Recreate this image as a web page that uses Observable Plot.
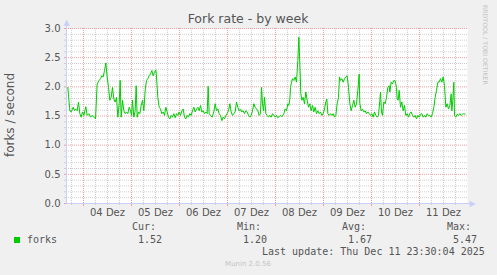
<!DOCTYPE html>
<html><head><meta charset="utf-8">
<script src="https://cdn.jsdelivr.net/npm/d3@7"></script>
<script src="https://cdn.jsdelivr.net/npm/@observablehq/plot@0.6"></script>
<style>
html,body{margin:0;padding:0;background:#f0f0f0;}
#page{position:relative;width:497px;height:275px;overflow:hidden;background:#f0f0f0;font-family:"DejaVu Sans",sans-serif;color:#555;}
.t{position:absolute;white-space:nowrap;line-height:1;}
.mono{font-family:"DejaVu Sans Mono",monospace;font-size:10px;color:#555;}
</style></head>
<body><div id="page"></div>
<script>
const title = "Fork rate - by week";
const yLabel = "forks / second";
const seriesName = "forks";
// [hours since 2025-12-03 00:00, forks per second]
const samples = [
[16.17,1.99],[17.17,1.59],[17.83,1.57],[18.83,1.65],[19.5,1.59],[20,1.62],[20.83,1.59],[21.5,1.74],[22.17,1.54],[22.83,1.48],
[23.5,1.57],[24.17,1.51],[25.17,1.66],[25.83,1.51],[26.67,1.54],[27.5,1.48],[28.33,1.51],[29.17,1.48],[30,1.45],[30.83,2.05],
[31.33,2.08],[31.83,2.11],[32.5,2.14],[33.17,2.19],[33.83,2.17],[34.5,2.28],[35.17,2.41],[35.83,2.17],[36.5,1.99],[37.17,1.77],
[37.83,1.82],[38.5,1.99],[39.17,1.79],[39.83,1.74],[40.5,1.82],[41.17,1.48],[41.83,1.71],[42.33,2.11],[42.83,1.48],[43.5,1.77],
[44.17,1.59],[44.83,1.54],[45.5,1.57],[46.17,1.54],[46.83,1.65],[47.5,1.59],[48,1.51],[48.5,1.77],[49.17,1.48],[49.83,1.59],
[50.33,2.02],[50.83,1.48],[51.5,1.57],[52.17,1.54],[52.83,1.68],[53.5,1.77],[54.17,1.59],[54.83,1.94],[55.5,2.11],[56.17,2.14],
[56.83,2.19],[57.5,2.22],[58.17,2.28],[58.83,2.19],[59.5,2.25],[60.17,2.29],[60.5,2.17],[61.17,1.82],[61.83,1.65],[62.5,1.62],
[63.17,1.54],[63.83,1.57],[64.5,1.51],[65.17,1.65],[65.83,1.57],[66.5,1.48],[67.17,1.45],[67.83,1.51],[68.5,1.48],[69.17,1.54],
[69.83,1.47],[70.5,1.54],[71.17,1.51],[71.83,1.57],[72.5,1.51],[73.17,1.59],[73.83,1.62],[74.5,1.48],[75.17,1.45],[75.83,1.51],
[76.5,1.48],[77.17,1.54],[77.83,1.51],[78.5,1.59],[79.17,1.65],[79.83,1.57],[80.5,1.62],[81.17,1.65],[81.83,1.59],[82.5,1.68],
[83.17,1.57],[83.83,1.59],[84.5,1.54],[85.17,1.57],[85.83,1.54],[86.33,2.01],[86.83,1.54],[87.5,1.51],[88.33,1.48],[89.17,1.57],
[89.83,1.71],[90.5,1.59],[91.17,1.62],[91.83,1.54],[92.5,1.51],[93.17,1.42],[93.83,1.48],[94.5,1.45],[95.17,1.51],[95.83,1.54],
[96.5,1.59],[97.17,1.71],[97.83,1.57],[98.5,1.51],[99.17,1.54],[99.83,1.57],[100.5,1.74],[101.17,1.65],[101.83,1.59],[102.5,1.62],
[103.17,1.57],[103.83,1.59],[104.5,1.54],[105.17,1.59],[105.83,1.57],[106.5,1.51],[107.17,1.48],[107.83,1.51],[108.5,1.59],[109.17,1.71],
[109.83,1.65],[110.5,1.62],[111.17,1.59],[111.83,1.51],[112.5,1.54],[113,1.99],[113.5,1.71],[114,1.59],[114.5,1.82],[115.17,1.54],
[115.83,1.51],[116.5,1.48],[117.17,1.51],[117.83,1.48],[118.5,1.54],[119.17,1.51],[119.83,1.48],[120.5,1.51],[121.17,1.47],[121.83,1.49],
[122.5,1.51],[123.33,1.49],[124.17,1.54],[124.83,1.62],[125.5,1.59],[126.17,1.71],[126.67,1.68],[127.17,1.79],[127.5,1.99],[128,2.08],
[128.5,2.14],[129.17,2.11],[129.83,2.17],[130.5,2.08],[131.17,2.45],[131.67,2.85],[132.17,2.39],[132.67,1.88],[133.17,1.77],[133.83,1.82],
[134.5,1.71],[135.17,1.91],[135.83,1.77],[136.5,1.65],[137.17,1.71],[137.83,1.59],[138.5,1.68],[139.17,1.57],[139.83,1.65],[140.5,1.54],
[141.17,1.59],[141.83,1.54],[142.5,1.57],[143.17,1.51],[143.83,1.54],[144.5,1.62],[145.17,1.74],[145.67,1.79],[146.17,1.54],[146.83,1.51],
[147.5,1.54],[148.17,1.51],[148.83,1.54],[149.5,1.48],[150.17,1.51],[150.83,1.71],[151.5,1.82],[152,2.17],[152.5,2.11],[153.17,2.14],
[153.83,2.08],[154.5,2.14],[155.17,2.17],[155.83,2.19],[156.5,1.99],[157.17,1.71],[157.83,1.59],[158.5,1.68],[159.17,1.77],[159.83,1.65],
[160.5,1.71],[161.17,1.94],[161.83,2.22],[162.17,1.71],[162.83,1.59],[163.5,1.62],[164.17,1.57],[164.83,1.59],[165.5,1.54],[166.17,1.57],
[166.83,1.54],[167.5,1.51],[168.17,1.54],[168.83,1.48],[169.5,1.57],[170.17,1.51],[170.83,1.48],[171.5,1.51],[172.17,1.77],[172.5,1.91],
[173,1.57],[173.5,1.51],[174.17,1.74],[174.83,1.71],[175.5,1.82],[176.17,1.99],[176.83,2.02],[177.17,1.91],[177.83,2.08],[178.5,2.05],
[179.17,2.11],[179.83,2.10],[180.5,1.99],[180.83,1.79],[181.33,1.77],[181.83,1.94],[182.5,1.65],[183.17,1.74],[183.83,1.59],[184.5,1.68],
[185.17,1.51],[185.83,1.54],[186.5,1.48],[187.17,1.54],[187.83,1.57],[188.5,1.51],[189.17,1.48],[189.83,1.51],[190.5,1.45],[191.17,1.51],
[191.83,1.48],[192.5,1.53],[193.17,1.54],[193.83,1.48],[194.5,1.51],[195.17,1.48],[195.83,1.54],[196.5,1.51],[197.17,1.51],[197.83,1.48],
[198.5,1.54],[199.17,1.65],[199.83,1.82],[200.5,1.94],[201.17,2.08],[201.83,2.08],[202.5,2.14],[203.17,2.08],[203.83,2.17],[204.5,2.02],
[205.17,1.65],[205.83,1.71],[206.5,1.62],[207.17,1.68],[207.83,1.88],[208.17,1.59],[208.67,1.77],[209.17,2.08],[209.5,1.51],[210.17,1.48],
[210.83,1.53],[211.5,1.51],[212.17,1.54],[212.83,1.51],[213.5,1.53],[214.17,1.54],[214.83,1.53]
];
const dayLabels = ["04 Dez","05 Dez","06 Dez","07 Dez","08 Dez","09 Dez","10 Dez","11 Dez"];
const yTicks = [0, 0.5, 1.0, 1.5, 2.0, 2.5, 3.0];
const legendHeads = ["Cur:", "Min:", "Avg:", "Max:"];
const legendValues = ["1.52", "1.20", "1.67", "5.47"];
const lastUpdate = "Last update: Thu Dec 11 23:30:04 2025";
const footer = "Munin 2.0.56";
const watermark = "RRDTOOL / TOBI OETIKER";

const data = samples.map(([t, v]) => ({t, v}));
const xDomain = [15.5, 216];
const midnights = dayLabels.map((d, i) => 24 * (i + 1));
const noons = dayLabels.map((d, i) => 24 * (i + 1) + 12);
const sixHours = d3.range(18, 216, 6).filter(h => h % 24 !== 0);
const yMinor = d3.range(1, 30).map(i => i / 10).filter(v => Math.abs(v * 2 - Math.round(v * 2)) > 1e-6);
const axisCol = "#c8d0fa";
const majorCol = "#e8a0a0";
const minorCol = "#cfcfcf";

const chart = Plot.plot({
  width: 497, height: 222,
  marginLeft: 66, marginRight: 30, marginTop: 28, marginBottom: 19,
  style: {background: "transparent", fontFamily: "DejaVu Sans", fontSize: "10px", color: "#555", overflow: "visible"},
  x: {domain: xDomain, axis: null},
  y: {domain: [0, 3], axis: null},
  marks: [
    Plot.frame({fill: "white", stroke: null}),
    Plot.ruleY(yMinor, {stroke: minorCol, strokeDasharray: "1,1"}),
    Plot.ruleX(sixHours, {stroke: minorCol, strokeDasharray: "1,1"}),
    Plot.ruleY(yTicks.filter(v => v > 0), {stroke: majorCol, strokeDasharray: "1,1"}),
    Plot.ruleX(midnights, {stroke: majorCol, strokeDasharray: "1,1"}),
    Plot.axisY({ticks: yMinor, tickSize: 2, tickFormat: () => "", stroke: minorCol, label: null}),
    Plot.axisY({ticks: yTicks, tickSize: 2, tickPadding: 4, tickFormat: d3.format(".1f"), stroke: majorCol, fill: "#555", fontSize: 10, label: null}),
    Plot.axisX({ticks: sixHours, tickSize: 2, tickFormat: () => "", stroke: minorCol, label: null}),
    Plot.axisX({ticks: midnights, tickSize: 3, tickFormat: () => "", stroke: majorCol, label: null}),
    Plot.axisX({ticks: noons, tickSize: 0, tickPadding: 5, tickFormat: (d, i) => dayLabels[i], fill: "#555", fontSize: 10, label: null}),
    Plot.ruleX([xDomain[0]], {y1: 0, y2: 3.09, stroke: axisCol}),
    Plot.ruleY([0], {x1: xDomain[0], x2: 218.5, stroke: axisCol}),
    Plot.text(["▲"], {x: xDomain[0], y: 3.1, fill: axisCol, fontSize: 8}),
    Plot.text(["▶"], {x: 218.6, y: 0, fill: axisCol, fontSize: 8}),
    Plot.line(data, {x: "t", y: "v", stroke: "#00cc00", strokeWidth: 1})
  ]
});
const page = document.getElementById("page");
chart.style.position = "absolute";
chart.style.left = "0px";
chart.style.top = "0px";
page.appendChild(chart);

function addText(txt, left, top, cls, css) {
  const d = document.createElement("div");
  d.className = "t " + (cls || "");
  d.textContent = txt;
  d.style.left = left + "px";
  d.style.top = top + "px";
  Object.assign(d.style, css || {});
  page.appendChild(d);
  return d;
}
addText(title, 248, 12.7, "", {fontSize: "12.5px", transform: "translateX(-50%)", color: "#555"});
addText(yLabel, 10, 115, "", {fontSize: "12px", transform: "translate(-50%,-50%) rotate(-90deg)", color: "#555"});
addText(watermark, 482, 5, "", {fontSize: "6.2px", writingMode: "vertical-rl", color: "#c4c4c4"});
const colX = [132, 237, 342, 447];
legendHeads.forEach((h, i) => addText(h, colX[i], 222.2, "mono"));
legendValues.forEach((v, i) => addText(v, colX[i] + 6, 234.6, "mono"));
const sw = document.createElement("div");
Object.assign(sw.style, {position: "absolute", left: "14px", top: "237px", width: "6px", height: "6px", background: "#00cc00"});
page.appendChild(sw);
addText(seriesName, 27, 234.6, "mono");
addText(lastUpdate, 262, 246.8, "mono");
addText(footer, 248, 260.5, "", {fontSize: "7px", transform: "translateX(-50%)", color: "#c4c4c4"});
</script>
</body></html>
